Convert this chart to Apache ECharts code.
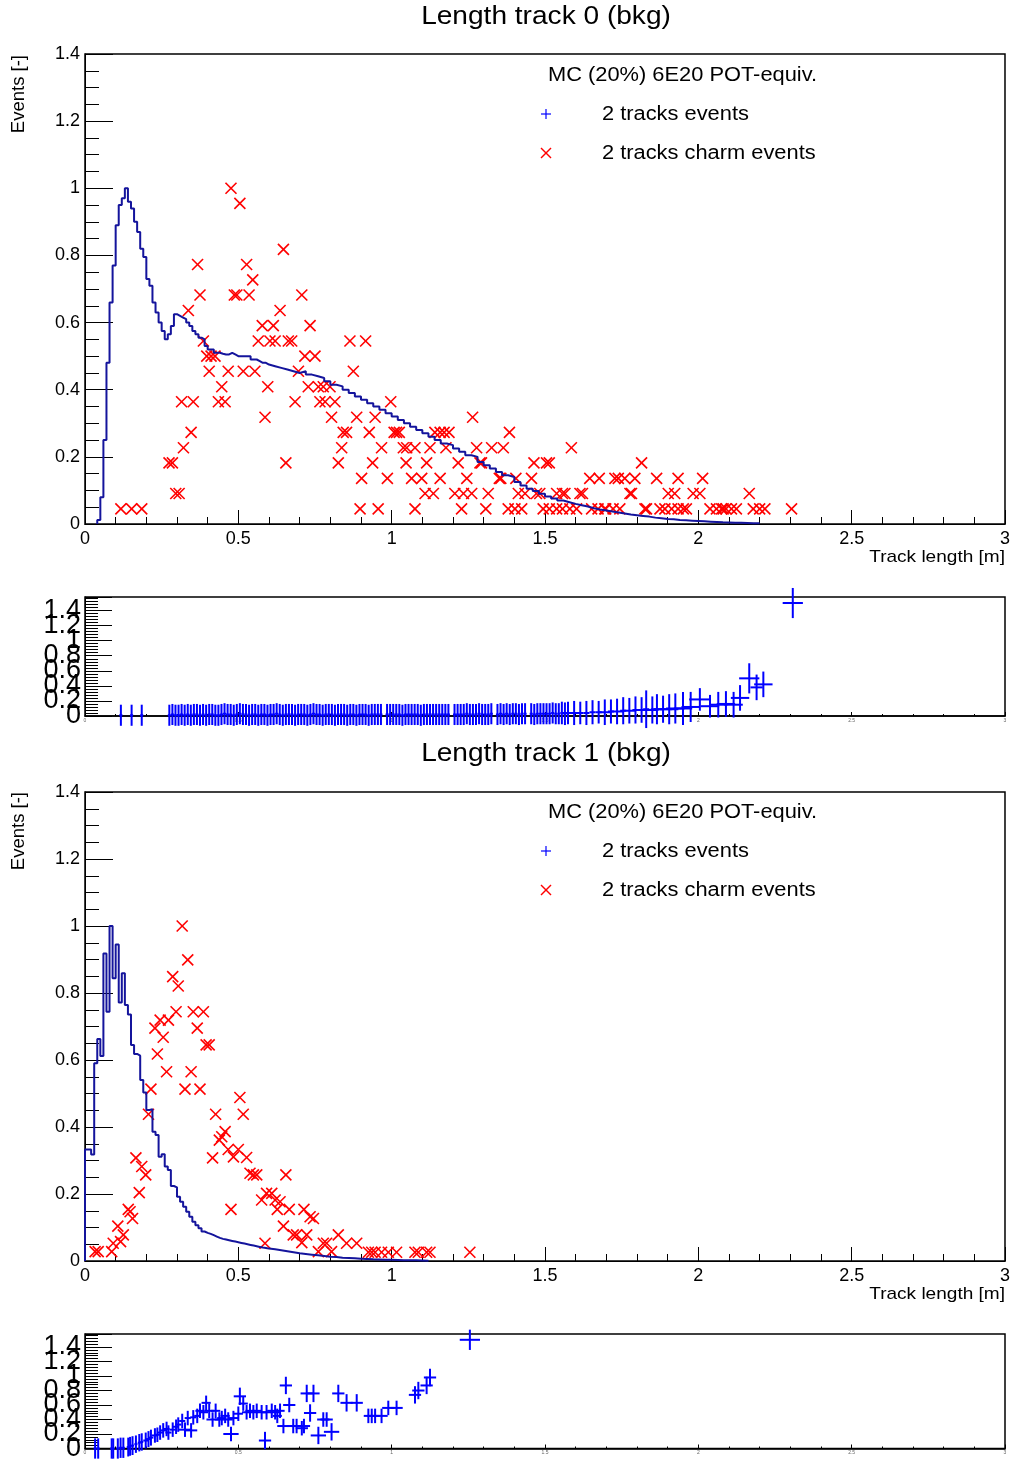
<!DOCTYPE html>
<html>
<head>
<meta charset="utf-8">
<script src="https://cdn.jsdelivr.net/npm/echarts@6/dist/echarts.min.js"></script>
<style>
  html, body { margin: 0; padding: 0; background: #fff; }
  #chart { width: 1013px; height: 1462px; }
</style>
</head>
<body>
<div id="chart"></div>
<script>
// ---- track 0: background histogram (normalised), fine bins then coarse bins
const trk0HeadStart = 0.04, trk0HeadWidth = 0.01;
const trk0Head = [0.012,0.08,0.25,0.48,0.66,0.77,0.89,0.95,0.97,1.0,0.96,0.94,0.90,0.87,0.82,0.795,0.73,0.71,0.66,0.63,
  0.60,0.575,0.55,0.565,0.59,0.625,0.62,0.615,0.61,0.60,0.59,0.575,0.565,0.555,0.55,0.53,0.52,0.52,0.51,0.51,
  0.507,0.505,0.505,0.51,0.505,0.50,0.50,0.50,0.50,0.50,0.49,0.49,0.485,0.48,0.48,0.475];
const trk0TailStart = 0.60, trk0TailWidth = 0.02;
const trk0Tail = [0.47,0.465,0.46,0.455,0.45,0.455,0.445,0.44,0.435,0.425,0.415,0.41,0.40,0.39,0.38,0.37,0.36,0.35,0.34,0.33,
  0.32,0.31,0.30,0.29,0.28,0.27,0.26,0.25,0.24,0.235,0.225,0.215,0.205,0.20,0.185,0.175,0.165,0.155,0.145,0.14,
  0.125,0.115,0.105,0.098,0.09,0.082,0.076,0.07,0.065,0.06,0.056,0.052,0.047,0.043,0.04,0.037,0.034,0.031,0.028,0.026,
  0.024,0.022,0.019,0.017,0.015,0.014,0.012,0.011,0.01,0.009,0.008,0.007,0.006,0.005,0.0045,0.004,0.0035,0.003,0.0025,0.002];

// ---- track 0: charm events [x, y]
const trk0Charm = [
  [0.117,0.045],[0.152,0.045],[0.185,0.045],[0.274,0.182],[0.285,0.182],[0.296,0.091],[0.307,0.091],[0.315,0.364],
  [0.321,0.227],[0.337,0.636],[0.346,0.273],[0.353,0.364],[0.367,0.773],[0.375,0.682],[0.386,0.545],[0.397,0.5],
  [0.405,0.455],[0.411,0.5],[0.424,0.5],[0.435,0.364],[0.446,0.409],[0.457,0.364],[0.467,0.455],[0.476,1.0],
  [0.487,0.682],[0.495,0.682],[0.505,0.955],[0.516,0.455],[0.527,0.773],[0.535,0.682],[0.547,0.727],[0.554,0.455],
  [0.565,0.545],[0.578,0.591],[0.587,0.318],[0.596,0.409],[0.603,0.545],[0.614,0.591],[0.620,0.545],[0.636,0.636],
  [0.647,0.818],[0.655,0.182],[0.663,0.545],[0.674,0.545],[0.685,0.364],[0.696,0.455],[0.707,0.682],[0.717,0.5],
  [0.728,0.409],[0.734,0.591],[0.750,0.5],[0.761,0.409],[0.766,0.364],[0.777,0.409],[0.783,0.364],[0.799,0.409],
  [0.804,0.318],[0.815,0.364],[0.826,0.182],[0.837,0.227],[0.842,0.273],[0.853,0.273],[0.864,0.545],[0.875,0.455],
  [0.886,0.318],[0.897,0.045],[0.902,0.136],[0.915,0.545],[0.927,0.273],[0.938,0.182],[0.946,0.318],[0.956,0.045],
  [0.967,0.227],[0.986,0.136],[0.997,0.364],[1.008,0.273],[1.016,0.273],[1.025,0.273],[1.038,0.227],[1.047,0.182],
  [1.049,0.227],[1.065,0.136],[1.076,0.227],[1.076,0.045],[1.098,0.136],[1.109,0.091],[1.114,0.182],[1.125,0.227],
  [1.136,0.091],[1.141,0.273],[1.158,0.273],[1.158,0.136],[1.171,0.273],[1.177,0.227],[1.187,0.273],[1.206,0.091],
  [1.217,0.182],[1.228,0.045],[1.234,0.091],[1.245,0.136],[1.261,0.091],[1.264,0.318],[1.277,0.227],[1.288,0.182],
  [1.293,0.182],[1.307,0.045],[1.315,0.091],[1.326,0.227],[1.351,0.136],[1.356,0.136],[1.364,0.227],[1.380,0.045],
  [1.384,0.273],[1.402,0.045],[1.405,0.136],[1.413,0.091],[1.424,0.045],[1.435,0.091],[1.456,0.136],[1.464,0.182],
  [1.472,0.091],[1.483,0.091],[1.494,0.045],[1.505,0.182],[1.514,0.182],[1.514,0.045],[1.538,0.091],[1.538,0.045],
  [1.557,0.091],[1.557,0.045],[1.565,0.091],[1.581,0.045],[1.586,0.227],[1.603,0.045],[1.614,0.091],[1.622,0.091],
  [1.646,0.136],[1.652,0.045],[1.673,0.045],[1.677,0.136],[1.695,0.045],[1.698,0.045],[1.722,0.045],[1.728,0.136],
  [1.739,0.136],[1.744,0.045],[1.760,0.136],[1.777,0.091],[1.782,0.091],[1.793,0.136],[1.815,0.182],[1.826,0.045],
  [1.831,0.045],[1.864,0.136],[1.875,0.045],[1.891,0.045],[1.902,0.091],[1.913,0.045],[1.923,0.091],[1.934,0.045],
  [1.934,0.136],[1.951,0.045],[1.961,0.045],[1.983,0.091],[2.005,0.091],[2.014,0.136],[2.038,0.045],[2.059,0.045],
  [2.076,0.045],[2.081,0.045],[2.090,0.045],[2.108,0.045],[2.124,0.045],[2.166,0.091],[2.179,0.045],[2.200,0.045],
  [2.217,0.045],[2.304,0.045]
];

// ---- track 0: ratio panel, dense bins (centre start, width) and extra points [x, y, xErr, yErr]
const trk0CombStart = 0.275, trk0CombWidth = 0.01, trk0CombXErr = 0.005, trk0CombYErr = 0.14;
const trk0Comb = [
  0.01,0.02,0.01,0.01,0.02,0.01,0.02,0.01,0.02,0.02,0.01,
  0.02,0.01,0.02,0.02,0.01,0.01,0.02,0.03,0.02,0.02,0.01,0.02,
  0.03,0.02,0.02,0.01,0.02,0.02,0.01,0.02,0.02,0.01,
  0.02,0.02,0.03,0.02,0.01,0.02,0.02,0.02,0.01,0.02,
  0.02,0.02,0.01,0.02,0.03,0.02,0.02,0.01,0.02,0.02,
  0.02,0.01,0.02,0.02,0.02,0.01,0.02,0.02,0.01,0.02,
  0.02,0.02,0.01,0.02,0.02,0.02,0.02,null,0.02,0.02,
  0.02,0.02,0.02,0.01,0.02,0.02,0.02,0.02,0.02,0.01,
  0.02,0.02,0.02,0.02,0.02,0.02,0.02,0.02,0.02,null,
  0.02,0.02,0.02,0.02,0.03,0.02,0.02,0.02,0.03,0.02,
  0.02,0.02,0.03,null,0.02,0.03,0.02,0.03,0.02,0.03,
  0.03,0.02,0.03,0.03,null,0.03,0.02,0.03,0.03,0.03,
  0.03,0.03,0.04,0.03,0.03
];
const trk0RatioPts = [
  [0.117,0.01,0.005,0.14],[0.152,0.01,0.005,0.14],[0.185,0.01,0.005,0.14],
  [1.555,0.04,0.005,0.15],[1.565,0.03,0.005,0.15],[1.575,0.04,0.02,0.15],[1.595,0.04,0.02,0.16],[1.615,0.04,0.01,0.15],
  [1.635,0.04,0.01,0.16],[1.655,0.05,0.01,0.16],[1.675,0.05,0.01,0.15],[1.695,0.05,0.02,0.17],[1.715,0.06,0.01,0.16],
  [1.735,0.06,0.02,0.17],[1.755,0.07,0.01,0.18],[1.775,0.07,0.02,0.17],[1.795,0.08,0.01,0.18],[1.815,0.08,0.02,0.17],
  [1.830,0.09,0.01,0.25],[1.850,0.08,0.02,0.18],[1.865,0.09,0.02,0.2],[1.885,0.09,0.03,0.18],[1.905,0.09,0.03,0.2],
  [1.925,0.10,0.03,0.2],[1.950,0.10,0.03,0.22],[1.975,0.12,0.03,0.2],[2.005,0.22,0.035,0.15],[2.038,0.13,0.03,0.15],
  [2.065,0.15,0.03,0.17],[2.090,0.16,0.03,0.17],[2.115,0.15,0.03,0.17],[2.136,0.24,0.03,0.17],[2.166,0.50,0.033,0.2],
  [2.190,0.38,0.02,0.17],[2.212,0.42,0.03,0.17],[2.308,1.50,0.033,0.2]
];

// ---- track 1: background histogram
const trk1HeadStart = 0.0, trk1HeadWidth = 0.01;
const trk1Head = [0.333,0.333,0.318,0.59,0.663,0.612,0.918,0.744,1.0,0.844,0.945,0.772,0.859,0.764,0.736,0.645,0.618,0.613,0.54,0.503,
  0.451,0.453,0.386,0.376,0.311,0.319,0.282,0.272,0.224,0.22,0.192,0.177,0.162,0.147,0.132,0.117,0.107,0.098,0.088,0.084,
  0.081,0.077,0.073,0.069,0.066,0.064,0.062,0.06,0.058,0.056,0.054,0.052,0.05,0.048,0.046,0.044,0.042,0.04,0.039,0.037];
const trk1TailStart = 0.60, trk1TailWidth = 0.02;
const trk1Tail = [0.035,0.032,0.029,0.026,0.023,0.021,0.019,0.017,0.015,0.013,0.012,0.010,0.009,0.008,0.007,0.006,0.005,
  0.0045,0.004,0.0035,0.003,0.0025,0.002,0.002,0.0015,0.001];

// ---- track 1: charm events [x, y]
const trk1Charm = [
  [0.033,0.028],[0.043,0.028],[0.087,0.028],[0.092,0.053],[0.107,0.104],[0.116,0.058],[0.125,0.078],[0.141,0.154],
  [0.147,0.147],[0.155,0.127],[0.166,0.308],[0.177,0.204],[0.185,0.282],[0.198,0.257],[0.207,0.438],[0.215,0.513],
  [0.228,0.695],[0.236,0.618],[0.245,0.719],[0.255,0.668],[0.266,0.565],[0.272,0.719],[0.286,0.849],[0.297,0.744],
  [0.304,0.821],[0.317,1.0],[0.326,0.513],[0.335,0.899],[0.346,0.565],[0.353,0.744],[0.366,0.695],[0.375,0.513],
  [0.386,0.744],[0.395,0.645],[0.405,0.645],[0.416,0.308],[0.426,0.438],[0.438,0.361],[0.446,0.371],[0.457,0.386],
  [0.467,0.333],[0.476,0.154],[0.484,0.311],[0.500,0.333],[0.505,0.488],[0.516,0.438],[0.527,0.309],[0.538,0.262],
  [0.549,0.257],[0.560,0.257],[0.576,0.182],[0.587,0.053],[0.592,0.202],[0.609,0.202],[0.620,0.182],[0.627,0.154],
  [0.636,0.177],[0.647,0.104],[0.655,0.257],[0.666,0.154],[0.679,0.078],[0.690,0.078],[0.707,0.055],[0.714,0.154],
  [0.723,0.078],[0.734,0.132],[0.745,0.127],[0.761,0.028],[0.777,0.053],[0.788,0.053],[0.804,0.028],[0.826,0.078],
  [0.853,0.053],[0.886,0.053],[0.924,0.026],[0.935,0.026],[0.946,0.026],[0.967,0.026],[0.989,0.026],[1.016,0.026],
  [1.076,0.026],[1.087,0.026],[1.114,0.026],[1.125,0.026],[1.255,0.026]
];

// ---- track 1: ratio panel points [x, y, xErr, yErr]
const trk1RatioPts = [
  [0.033,0.0,0.005,0.14],[0.043,0.0,0.005,0.14],[0.087,0.0,0.005,0.14],[0.092,0.0,0.005,0.14],[0.107,0.0,0.005,0.14],
  [0.116,0.01,0.005,0.14],[0.125,0.01,0.005,0.14],[0.141,0.02,0.005,0.13],[0.147,0.03,0.005,0.13],[0.155,0.04,0.005,0.13],
  [0.166,0.06,0.005,0.12],[0.177,0.08,0.005,0.12],[0.185,0.09,0.005,0.12],[0.198,0.11,0.008,0.11],[0.207,0.13,0.008,0.11],
  [0.215,0.15,0.008,0.11],[0.228,0.18,0.01,0.1],[0.236,0.19,0.01,0.1],[0.245,0.22,0.01,0.1],[0.255,0.25,0.01,0.1],
  [0.266,0.27,0.01,0.1],[0.272,0.22,0.01,0.1],[0.286,0.26,0.01,0.1],[0.297,0.30,0.01,0.1],[0.304,0.33,0.01,0.1],
  [0.317,0.38,0.01,0.1],[0.326,0.26,0.02,0.1],[0.335,0.42,0.01,0.1],[0.346,0.25,0.02,0.1],[0.353,0.43,0.01,0.1],
  [0.366,0.45,0.01,0.1],[0.375,0.52,0.015,0.1],[0.386,0.50,0.015,0.1],[0.395,0.63,0.015,0.1],[0.405,0.52,0.015,0.1],
  [0.416,0.40,0.02,0.1],[0.426,0.52,0.015,0.1],[0.438,0.40,0.015,0.1],[0.446,0.42,0.015,0.1],[0.457,0.45,0.015,0.1],
  [0.467,0.40,0.015,0.1],[0.476,0.20,0.025,0.1],[0.484,0.42,0.015,0.1],[0.500,0.48,0.015,0.1],[0.505,0.72,0.02,0.12],
  [0.516,0.62,0.015,0.1],[0.527,0.50,0.015,0.1],[0.538,0.52,0.015,0.1],[0.549,0.50,0.015,0.1],[0.560,0.52,0.015,0.1],
  [0.576,0.50,0.015,0.1],[0.587,0.11,0.02,0.12],[0.592,0.50,0.015,0.1],[0.609,0.52,0.015,0.1],[0.620,0.50,0.015,0.1],
  [0.627,0.45,0.015,0.1],[0.636,0.52,0.015,0.1],[0.647,0.31,0.02,0.1],[0.655,0.87,0.02,0.12],[0.666,0.60,0.02,0.1],
  [0.679,0.31,0.02,0.1],[0.690,0.31,0.02,0.1],[0.707,0.28,0.02,0.1],[0.714,0.31,0.02,0.1],[0.723,0.76,0.02,0.12],
  [0.734,0.49,0.02,0.12],[0.745,0.76,0.02,0.12],[0.761,0.18,0.025,0.12],[0.777,0.40,0.02,0.1],[0.788,0.40,0.02,0.1],
  [0.804,0.23,0.025,0.12],[0.826,0.76,0.02,0.12],[0.853,0.63,0.02,0.12],[0.886,0.63,0.02,0.12],[0.924,0.45,0.015,0.1],
  [0.935,0.45,0.015,0.1],[0.946,0.45,0.015,0.1],[0.967,0.45,0.02,0.1],[0.989,0.56,0.02,0.1],[1.016,0.56,0.02,0.1],
  [1.076,0.74,0.02,0.12],[1.087,0.80,0.02,0.12],[1.114,0.87,0.02,0.12],[1.125,0.98,0.02,0.12],[1.255,1.50,0.033,0.14]
];

const FONT = 'Liberation Sans, Arial, Helvetica, sans-serif';
const HIST_COLOR = '#14149c';
const CHARM_COLOR = '#ff0000';
const RATIO_COLOR = '#0000ff';

function histSteps(parts) {
  const pts = [[parts[0][0], 0]];
  parts.forEach(([start, width, vals]) => {
    vals.forEach((v, i) => pts.push([start + i * width, v]));
  });
  const last = parts[parts.length - 1];
  const end = last[0] + last[2].length * last[1];
  pts.push([end, last[2][last[2].length - 1]]);
  pts.push([end, 0]);
  return pts;
}

function combPoints(start, width, vals, xErr, yErr) {
  const out = [];
  vals.forEach((v, i) => { if (v !== null) out.push([start + i * width, v, xErr, yErr]); });
  return out;
}

function renderX(params, api) {
  const p = api.coord([api.value(0), api.value(1)]);
  const s = 5.5;
  const st = {stroke: CHARM_COLOR, lineWidth: 1.6};
  return {type: 'group', children: [
    {type: 'line', shape: {x1: p[0] - s, y1: p[1] - s, x2: p[0] + s, y2: p[1] + s}, style: st},
    {type: 'line', shape: {x1: p[0] - s, y1: p[1] + s, x2: p[0] + s, y2: p[1] - s}, style: st}
  ]};
}

function renderCross(params, api) {
  const x = api.value(0), y = api.value(1), xe = api.value(2), ye = api.value(3);
  const a = api.coord([x - xe, y]), b = api.coord([x + xe, y]);
  const c = api.coord([x, y - ye]), d = api.coord([x, y + ye]);
  const st = {stroke: RATIO_COLOR, lineWidth: 2};
  return {type: 'group', children: [
    {type: 'line', shape: {x1: a[0], y1: a[1], x2: b[0], y2: b[1]}, style: st},
    {type: 'line', shape: {x1: c[0], y1: c[1], x2: d[0], y2: d[1]}, style: st}
  ]};
}

const fmtNum = v => String(+v.toFixed(2));
const onStep = v => Math.abs(v / 0.2 - Math.round(v / 0.2)) < 1e-6;

function mainX(gi) {
  return {
    type: 'value', gridIndex: gi, min: 0, max: 3, interval: 0.5,
    axisLine: {lineStyle: {color: '#000', width: 1}},
    axisTick: {inside: true, length: 14, lineStyle: {color: '#000'}},
    minorTick: {show: true, splitNumber: 5, length: 7, lineStyle: {color: '#000'}},
    axisLabel: {color: '#000', fontFamily: FONT, fontSize: 18, margin: 6, formatter: fmtNum},
    splitLine: {show: false}
  };
}
function mainY(gi) {
  return {
    type: 'value', gridIndex: gi, min: 0, max: 1.4, interval: 0.2,
    axisLine: {lineStyle: {color: '#000', width: 1}},
    axisTick: {inside: true, length: 28, lineStyle: {color: '#000'}},
    minorTick: {show: true, splitNumber: 4, length: 14, lineStyle: {color: '#000'}},
    axisLabel: {color: '#000', fontFamily: FONT, fontSize: 18, margin: 5, showMinLabel: true, formatter: fmtNum},
    splitLine: {show: false}
  };
}
function ratioX(gi) {
  return {
    type: 'value', gridIndex: gi, min: 0, max: 3, interval: 0.5,
    axisLine: {lineStyle: {color: '#000', width: 1.5}},
    axisTick: {inside: true, length: 4, lineStyle: {color: '#000'}},
    minorTick: {show: true, splitNumber: 5, length: 2, lineStyle: {color: '#000'}},
    axisLabel: {color: '#666', fontFamily: FONT, fontSize: 5, margin: 2, formatter: fmtNum},
    splitLine: {show: false}
  };
}
// ratio axis: labels 0.2 .. 1.4 (its overlapping minimum label is dropped by ECharts)
function ratioY(gi) {
  return {
    type: 'value', gridIndex: gi, min: 0, max: 1.58, interval: 0.2,
    axisLine: {lineStyle: {color: '#000', width: 1}},
    axisTick: {inside: true, length: 27, lineStyle: {color: '#000'}},
    minorTick: {show: true, splitNumber: 5, length: 13, lineStyle: {color: '#000'}},
    axisLabel: {
      color: '#000', fontFamily: FONT, fontSize: 27, margin: 4, showMinLabel: false, showMaxLabel: false,
      formatter: v => (onStep(v) && v > 0 ? String(+v.toFixed(1)) : '')
    },
    splitLine: {show: false}
  };
}
// twin axis on the same grid that only carries the "0" label
function ratioYZero(gi) {
  return {
    type: 'value', gridIndex: gi, min: 0, max: 1.58, interval: 0.2, position: 'left',
    axisLine: {show: false}, axisTick: {show: false}, minorTick: {show: false}, splitLine: {show: false},
    axisLabel: {
      color: '#000', fontFamily: FONT, fontSize: 27, margin: 4, showMinLabel: true, showMaxLabel: false,
      formatter: v => (v === 0 ? '0' : '')
    }
  };
}

function frame(top, height) {
  return {left: 85, right: 8, top: top, height: height, show: true, borderColor: '#000', borderWidth: 1.5,
    backgroundColor: 'transparent'};
}

function plotTexts(dy, title) {
  const t = (x, y, text, size, align, sx, extra) => Object.assign({
    type: 'text', x: x, y: y + dy, scaleX: sx || 1,
    style: {text: text, fill: '#000', font: size + 'px ' + FONT, textAlign: align, textVerticalAlign: 'middle'}
  }, extra || {});
  return [
    t(546, 17, title, 26, 'center', 1.08),
    t(548, 76, 'MC (20%) 6E20 POT-equiv.', 19.5, 'left', 1.12),
    t(602, 115, '2 tracks events', 19.5, 'left', 1.12),
    t(602, 154, '2 tracks charm events', 19.5, 'left', 1.12),
    t(1005, 557, 'Track length [m]', 17, 'right', 1.12),
    t(19, 55, 'Events [-]', 18.5, 'right', 1, {rotation: Math.PI / 2}),
    {type: 'line', shape: {x1: 541, y1: 114 + dy, x2: 551, y2: 114 + dy}, style: {stroke: RATIO_COLOR, lineWidth: 1.2}},
    {type: 'line', shape: {x1: 546, y1: 109 + dy, x2: 546, y2: 119 + dy}, style: {stroke: RATIO_COLOR, lineWidth: 1.2}},
    {type: 'line', shape: {x1: 541, y1: 148 + dy, x2: 551, y2: 158 + dy}, style: {stroke: CHARM_COLOR, lineWidth: 1.4}},
    {type: 'line', shape: {x1: 541, y1: 158 + dy, x2: 551, y2: 148 + dy}, style: {stroke: CHARM_COLOR, lineWidth: 1.4}}
  ];
}

const chart = echarts.init(document.getElementById('chart'), null, {renderer: 'canvas'});

const option = {
  animation: false,
  backgroundColor: '#fff',
  grid: [frame(54, 470), frame(597, 119), frame(792, 469), frame(1334, 118)],
  xAxis: [mainX(0), ratioX(1), mainX(2), ratioX(3)],
  yAxis: [mainY(0), ratioY(1), mainY(2), ratioY(3), ratioYZero(1), ratioYZero(3)],
  series: [
    {
      type: 'line', xAxisIndex: 0, yAxisIndex: 0, step: 'end', showSymbol: false, silent: true,
      lineStyle: {color: HIST_COLOR, width: 2},
      data: histSteps([[trk0HeadStart, trk0HeadWidth, trk0Head], [trk0TailStart, trk0TailWidth, trk0Tail]])
    },
    {type: 'custom', xAxisIndex: 0, yAxisIndex: 0, renderItem: renderX, encode: {x: 0, y: 1}, data: trk0Charm},
    {
      type: 'custom', xAxisIndex: 1, yAxisIndex: 1, renderItem: renderCross, encode: {x: 0, y: 1}, clip: false,
      data: combPoints(trk0CombStart, trk0CombWidth, trk0Comb, trk0CombXErr, trk0CombYErr).concat(trk0RatioPts)
    },
    {
      type: 'line', xAxisIndex: 2, yAxisIndex: 2, step: 'end', showSymbol: false, silent: true,
      lineStyle: {color: HIST_COLOR, width: 2},
      data: histSteps([[trk1HeadStart, trk1HeadWidth, trk1Head], [trk1TailStart, trk1TailWidth, trk1Tail]])
    },
    {type: 'custom', xAxisIndex: 2, yAxisIndex: 2, renderItem: renderX, encode: {x: 0, y: 1}, data: trk1Charm},
    {
      type: 'custom', xAxisIndex: 3, yAxisIndex: 3, renderItem: renderCross, encode: {x: 0, y: 1}, clip: false,
      data: trk1RatioPts
    }
  ],
  graphic: plotTexts(0, 'Length track 0 (bkg)').concat(plotTexts(737, 'Length track 1 (bkg)'))
};

chart.setOption(option);
</script>
</body>
</html>
